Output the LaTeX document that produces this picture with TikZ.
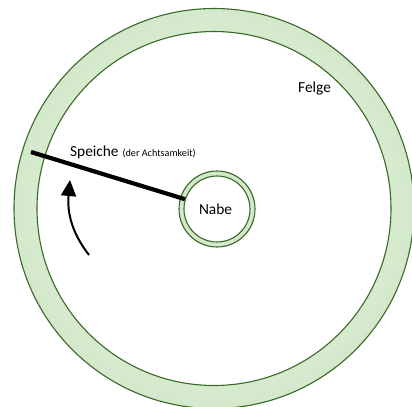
\documentclass[tikz,border=0pt]{standalone}
\usepackage{fontspec}
\setmainfont{Carlito}
\usetikzlibrary{arrows.meta}
\definecolor{ringfill}{RGB}{212,233,203}
\definecolor{ringfilllight}{RGB}{234,244,229}
\definecolor{ringline}{RGB}{58,104,40}
\tikzset{
  ringedge/.style={draw=ringline, line width=1.1bp},
  lbl/.style={font=\fontsize{15.4}{18}\selectfont, inner sep=0pt, text=black},
  smalllbl/.style={font=\fontsize{10.2}{12}\selectfont, inner sep=0pt, text=black},
  spoke/.style={line width=4.2bp, black, line cap=butt},
  turn/.style={line width=2bp, -{Triangle[length=16bp, width=15bp]}}
}
\begin{document}
\begin{tikzpicture}[x=1bp, y=-1bp]
\useasboundingbox (0,0) rectangle (412,407);
\clip (0,0) rectangle (412,407);
\fill[white] (0,0) rectangle (412,407);
\coordinate (c) at (214,208.5);
% rim (Felge)
\shade[even odd rule, inner color=ringfilllight, outer color=ringfill]
  (c) circle[radius=200] (c) circle[radius=177];
\fill[white] (c) circle[radius=177];
\draw[ringedge] (c) circle[radius=200];
\draw[ringedge] (c) circle[radius=177];
% hub (Nabe)
\coordinate (hc) at (217,209);
\fill[ringfill] (hc) circle[radius=38];
\draw[ringedge] (hc) circle[radius=38];
\node[circle, ringedge, fill=white, minimum size=66bp, inner sep=0pt, lbl] (hub) at (hc) {\hspace*{-3bp}Nabe};
% spoke
\coordinate (s) at (31,152);
\draw[spoke] (s) -- (hub);
% labels
\node[lbl, anchor=base west] (sp) at (70,156.7) {Speiche};
\node[smalllbl, anchor=base west] (sp2) at ([xshift=3.5bp]sp.base east) {(der Achtsamkeit)};
\node[lbl, anchor=base west] (felge) at (298,92.7) {Felge};
% rotation arrow
\coordinate (a1) at (89,255);
\coordinate (a2) at (70,180);
\draw[turn] (a1) .. controls (72,233) and (67,213) .. (a2);
\end{tikzpicture}
\end{document}
